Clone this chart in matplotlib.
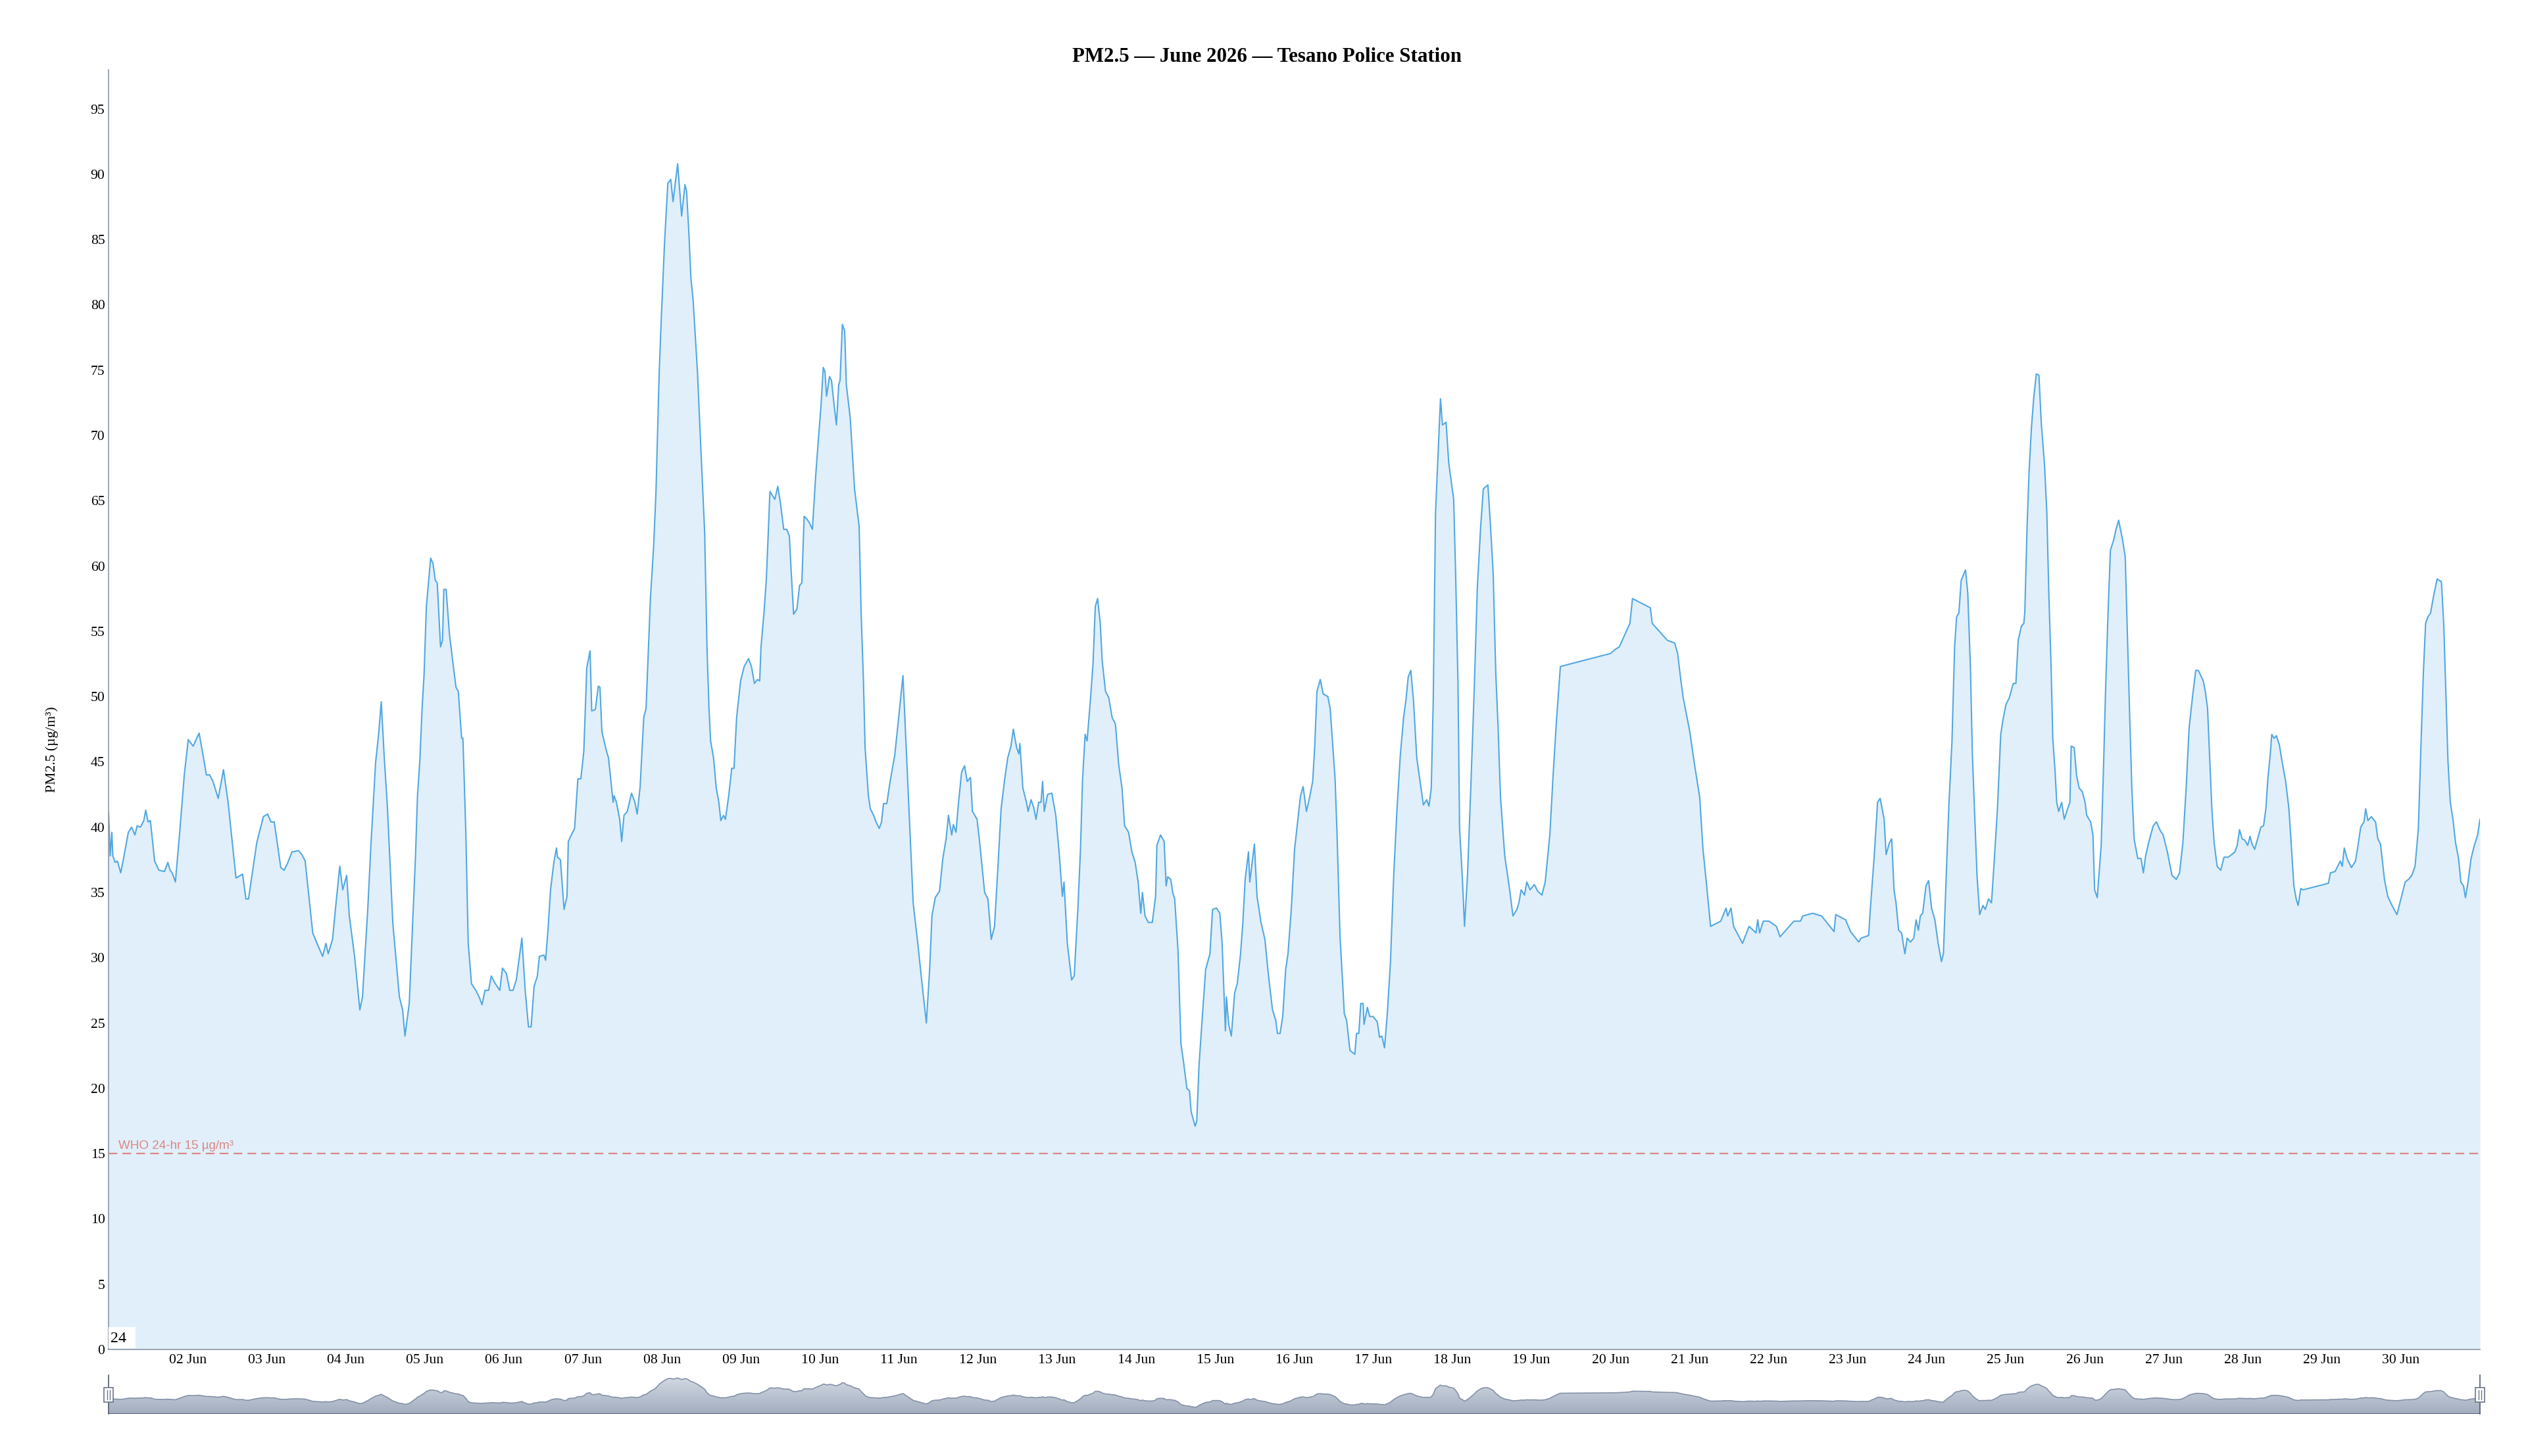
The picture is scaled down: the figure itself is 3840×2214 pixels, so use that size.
import matplotlib.pyplot as plt
import matplotlib.dates as mdates
import numpy as np
import pandas as pd
from matplotlib.colors import LinearSegmentedColormap
from matplotlib.patches import Rectangle

OUT_PNG = "out.png"
START = pd.Timestamp("2026-06-01 00:00")
END = pd.Timestamp("2026-07-01 00:00")
TITLE = "PM2.5 — June 2026 — Tesano Police Station"
Y_LABEL = "PM2.5 (µg/m³)"
WHO_LIMIT = 15
WHO_LABEL = "WHO 24-hr 15 µg/m³"
Y_TICKS = list(range(0, 100, 5))
Y_MAX = 98
CORNER_TEXT = "24"

# (hours since 1 Jun 00:00, PM2.5 in µg/m³)
DAYS_01_04 = [
    (0.0, 41.2), (0.5, 37.8), (1.0, 39.6), (1.3, 37.8), (2.0, 37.3), (2.7, 37.4), (3.7, 36.5),
    (4.7, 37.8), (6.0, 39.6), (7.0, 40.0), (8.0, 39.4), (8.7, 40.1), (9.7, 40.0), (10.7, 40.5),
    (11.3, 41.3), (12.0, 40.4), (12.7, 40.5), (14.0, 37.4), (15.3, 36.7), (17.0, 36.6), (18.0, 37.3),
    (18.7, 36.7), (19.3, 36.5), (20.3, 35.8), (21.7, 39.9), (23.0, 44.0), (24.2, 46.7), (25.7, 46.2),
    (27.5, 47.2), (28.7, 45.5), (29.7, 44.0), (30.7, 44.0), (31.7, 43.5), (33.3, 42.2), (34.9, 44.4),
    (36.3, 41.9), (38.7, 36.1), (40.7, 36.4), (41.7, 34.5), (42.5, 34.5), (45.0, 38.8), (47.0, 40.8),
    (48.3, 41.0), (49.3, 40.4), (50.3, 40.4), (52.3, 36.9), (53.3, 36.7), (54.3, 37.2), (55.7, 38.1),
    (57.7, 38.2), (58.7, 37.9), (59.7, 37.4), (62.0, 31.9), (63.3, 31.1), (65.0, 30.1), (66.0, 31.1),
    (66.7, 30.3), (68.0, 31.4), (69.0, 34.0), (70.2, 37.0), (71.1, 35.2), (72.3, 36.3), (73.1, 33.2),
    (74.7, 30.1), (76.3, 26.0), (77.1, 27.0), (78.7, 33.7), (79.7, 38.8), (81.1, 45.0), (82.0, 47.1),
    (82.8, 49.6), (83.7, 45.4), (84.7, 41.4), (86.3, 32.7), (88.3, 27.0), (89.3, 26.0), (90.0, 24.0),
    (91.3, 26.5),
]
DAYS_04_08 = [
    (93.2, 37.8), (93.8, 42.4), (94.5, 45.0), (95.2, 49.1), (95.8, 51.7), (96.5, 56.9), (97.2, 58.9),
    (97.8, 60.6), (98.5, 60.2), (99.2, 58.9), (99.8, 58.7), (100.8, 53.8), (101.4, 54.3), (101.8, 58.2),
    (102.5, 58.2), (103.5, 54.8), (104.5, 52.7), (105.5, 50.7), (106.2, 50.4), (107.2, 46.8),
    (107.6, 46.8), (108.5, 39.4), (109.2, 31.1), (110.2, 28.0), (111.5, 27.5), (112.5, 27.0),
    (113.4, 26.4), (114.3, 27.5), (115.4, 27.5), (116.2, 28.6), (117.2, 28.1), (118.8, 27.5),
    (119.6, 29.2), (120.8, 28.8), (121.8, 27.5), (122.8, 27.5), (123.8, 28.3), (125.5, 31.5),
    (126.5, 27.5), (127.5, 24.7), (128.3, 24.7), (129.2, 27.8), (130.2, 28.6), (130.8, 30.1),
    (132.2, 30.2), (132.7, 29.8), (133.5, 32.4), (134.2, 35.2), (135.2, 37.3), (136.0, 38.4),
    (136.3, 37.7), (137.2, 37.5), (138.3, 33.7), (139.2, 34.7), (139.6, 38.9), (140.5, 39.4),
    (141.5, 39.9), (142.5, 43.7), (143.4, 43.7), (144.3, 45.8), (145.2, 52.2), (146.2, 53.5),
    (146.7, 48.9), (147.8, 49.0), (148.7, 50.8), (149.2, 50.7), (149.8, 47.3), (151.2, 45.8),
    (151.8, 45.3), (153.2, 41.9), (153.5, 42.4), (154.2, 41.9), (155.2, 40.6), (155.8, 38.9),
    (156.5, 40.9), (157.5, 41.2), (158.8, 42.6), (159.8, 41.9), (160.5, 41.0), (161.4, 43.1),
    (162.5, 48.4), (163.2, 49.1), (164.5, 57.4), (165.5, 61.5), (166.2, 65.6), (167.2, 74.9),
    (167.8, 78.8), (168.8, 84.7), (169.8, 89.3), (170.7, 89.6), (171.4, 87.9), (172.2, 89.6),
    (172.8, 90.8), (173.4, 88.8), (174.0, 86.8), (175.0, 89.2), (175.5, 88.7), (176.2, 85.5),
    (176.8, 82.1), (177.5, 80.3), (178.8, 74.9), (179.8, 69.2),
]
DAYS_08_12 = [
    (181.0, 62.5), (181.7, 53.8), (182.3, 49.1), (182.8, 46.6), (183.7, 45.3), (184.5, 43.0),
    (185.3, 41.9), (185.9, 40.5), (186.7, 40.9), (187.3, 40.6), (188.3, 42.4), (189.2, 44.5),
    (189.9, 44.5), (190.7, 48.4), (191.9, 51.2), (193.0, 52.3), (194.3, 52.9), (195.2, 52.3),
    (196.1, 51.0), (197.0, 51.3), (197.7, 51.2), (198.1, 53.8), (199.0, 56.4), (199.7, 58.9),
    (200.3, 62.5), (200.8, 65.7), (202.3, 65.1), (203.2, 66.1), (204.0, 64.8), (205.0, 62.8),
    (205.9, 62.8), (206.7, 62.3), (207.3, 59.4), (208.0, 56.3), (209.0, 56.7), (209.8, 58.5),
    (210.5, 58.7), (211.2, 63.8), (212.0, 63.6), (212.8, 63.3), (213.7, 62.8), (214.7, 66.9),
    (215.7, 70.3), (216.3, 72.2), (217.0, 75.2), (217.5, 74.9), (218.0, 73.0), (218.9, 74.5),
    (219.5, 74.2), (220.3, 72.3), (221.0, 70.8), (221.7, 73.9), (222.1, 74.2), (222.8, 78.5),
    (223.5, 78.0), (224.0, 73.9), (225.2, 71.3), (226.5, 65.9), (227.9, 63.0), (228.5, 56.4),
    (229.2, 51.2), (229.7, 46.1), (230.7, 42.4), (231.3, 41.4), (232.3, 40.9), (233.0, 40.4),
    (234.0, 39.9), (234.7, 40.4), (235.3, 41.8), (236.3, 41.8), (237.3, 43.5), (238.7, 45.5),
    (239.7, 47.9), (241.2, 51.6), (242.0, 47.1), (243.0, 41.4), (244.3, 34.2), (245.7, 31.1),
    (247.0, 28.0), (248.3, 25.0), (249.3, 29.1), (250.0, 33.2), (251.0, 34.6), (252.3, 35.1),
    (253.3, 37.6), (254.3, 39.1), (255.0, 40.9), (256.0, 39.4), (256.5, 40.2), (257.3, 39.6),
    (258.0, 41.7), (259.0, 44.2), (259.9, 44.7), (260.7, 43.5), (261.7, 43.8), (262.3, 41.2),
    (263.7, 40.6), (264.5, 38.8), (266.0, 35.0), (267.0, 34.5), (268.0, 31.4), (269.0, 32.4),
    (270.0, 36.8), (271.0, 41.4), (272.0, 43.5), (273.0, 45.3), (274.0, 46.2),
]
DAYS_12_16 = [
    (274.7, 47.5), (275.7, 46.1), (276.4, 45.6), (276.7, 46.4), (277.6, 43.0), (278.7, 41.9),
    (279.2, 41.2), (280.1, 42.1), (280.9, 41.5), (281.6, 40.6), (282.4, 41.9), (283.1, 41.9),
    (283.6, 43.5), (284.1, 41.2), (285.1, 42.5), (286.4, 42.6), (287.6, 40.9), (288.7, 37.8),
    (289.6, 34.7), (290.1, 35.8), (291.1, 31.1), (292.4, 28.3), (293.2, 28.6), (294.3, 33.7),
    (295.1, 38.3), (295.7, 43.5), (296.5, 47.1), (297.1, 46.6), (298.1, 49.7), (298.9, 52.5),
    (299.6, 56.9), (300.3, 57.5), (301.1, 55.6), (301.7, 52.7), (302.7, 50.4), (303.7, 49.9),
    (304.7, 48.4), (305.7, 47.9), (306.7, 44.8), (307.7, 43.0), (308.5, 40.1), (309.7, 39.6),
    (310.7, 38.1), (311.7, 37.3), (312.6, 35.8), (313.4, 33.4), (313.9, 35.0), (314.7, 33.2),
    (315.7, 32.7), (316.9, 32.7), (317.9, 34.7), (318.3, 38.6), (319.4, 39.4), (320.5, 38.9),
    (321.1, 35.5), (321.6, 36.2), (322.5, 36.0), (323.1, 35.0), (323.7, 34.5), (324.7, 30.6),
    (325.6, 23.4), (326.4, 22.0), (327.4, 20.0), (328.2, 19.8), (328.7, 18.2), (329.9, 17.1),
    (330.4, 17.5), (331.1, 21.8), (332.1, 25.5), (333.1, 29.1), (334.4, 30.3), (335.2, 33.7),
    (336.4, 33.8), (337.4, 33.4), (338.1, 31.1), (339.1, 24.4), (339.4, 27.0), (340.1, 24.9),
    (340.9, 24.0), (341.9, 27.3), (342.7, 28.0), (343.7, 30.3), (344.4, 32.7), (345.1, 36.0),
    (346.1, 38.1), (346.5, 35.8), (347.9, 38.7), (348.7, 34.7), (349.9, 32.7), (351.1, 31.4),
    (352.1, 28.8), (353.4, 26.0), (354.4, 25.2), (354.9, 24.2), (355.7, 24.2), (356.5, 25.5),
    (357.4, 29.1), (358.1, 30.3), (359.1, 33.7), (360.1, 38.3), (361.1, 40.6), (361.9, 42.4),
    (362.7, 43.1), (363.7, 41.2),
]
DAYS_16_19 = [
    (364.6, 42.2), (365.6, 43.5), (366.2, 46.1), (366.9, 50.4), (367.9, 51.3), (368.8, 50.2),
    (370.2, 50.0), (370.9, 49.1), (371.6, 46.6), (372.4, 43.7), (373.0, 39.4), (373.9, 31.6),
    (374.6, 28.5), (375.2, 25.7), (375.9, 25.2), (376.9, 22.9), (378.4, 22.6), (378.9, 24.2),
    (379.6, 24.2), (380.2, 26.5), (380.9, 26.5), (381.2, 24.9), (382.2, 26.2), (382.9, 25.5),
    (383.9, 25.5), (385.2, 25.1), (385.9, 23.9), (386.6, 24.0), (387.4, 23.1), (388.2, 25.5),
    (389.2, 29.6), (390.2, 36.3), (391.2, 41.4), (392.2, 45.5), (393.2, 48.4), (393.9, 49.7),
    (394.6, 51.5), (395.4, 52.0), (396.2, 49.7), (397.2, 45.3), (398.2, 43.5), (399.2, 41.7),
    (400.2, 42.1), (400.9, 41.6), (401.6, 43.0), (402.2, 49.7), (402.9, 64.1), (403.6, 68.2),
    (404.4, 72.8), (405.0, 70.8), (406.1, 71.0), (406.9, 67.9), (408.4, 65.1), (409.0, 59.4),
    (409.7, 51.2), (410.2, 39.9), (411.0, 36.3), (411.7, 32.4), (412.6, 36.3), (413.6, 43.0),
    (414.6, 50.2), (415.6, 58.4), (416.6, 63.0), (417.4, 65.9), (418.8, 66.2), (419.6, 63.0),
    (420.4, 59.4), (421.2, 51.7), (421.9, 47.6), (422.6, 42.4), (423.9, 37.8), (425.4, 35.2),
    (426.4, 33.2), (427.6, 33.7), (428.2, 34.2), (428.9, 35.2), (429.9, 34.8), (430.6, 35.8),
    (431.6, 35.2), (432.9, 35.6), (433.9, 35.1), (435.2, 34.8), (436.2, 35.8), (437.6, 39.4),
    (438.6, 44.0), (439.6, 48.1), (440.8, 52.3),
]
DAYS_20_23 = [
    (456.1, 53.3), (457.4, 53.6), (458.7, 53.8), (461.9, 55.6), (462.7, 57.5), (468.1, 56.8),
    (468.7, 55.6), (473.3, 54.3), (475.5, 54.1), (476.4, 53.3), (477.4, 51.2), (478.1, 49.9),
    (480.1, 47.3), (481.4, 45.0), (483.1, 42.3), (484.1, 38.3), (485.1, 35.8), (486.4, 32.4),
    (489.5, 32.8), (491.1, 33.8), (491.6, 33.2), (492.6, 33.8), (493.4, 32.4), (496.1, 31.1),
    (498.1, 32.4), (500.2, 31.9), (500.7, 32.9), (501.3, 31.9), (502.4, 32.8), (504.1, 32.8),
    (506.4, 32.4), (507.5, 31.6), (511.7, 32.8), (513.7, 32.8), (514.4, 33.2), (517.4, 33.4),
    (520.1, 33.2), (523.9, 32.0), (524.4, 33.3), (527.4, 32.9), (528.9, 32.0), (531.4, 31.2),
    (532.1, 31.5), (534.4, 31.7), (534.9, 33.7), (536.1, 37.8), (537.1, 41.9), (537.9, 42.2),
    (539.1, 40.6), (539.7, 37.9), (540.7, 38.8), (541.4, 39.1), (542.1, 35.2), (542.7, 34.2),
    (543.5, 32.1), (544.4, 31.9), (545.4, 30.3),
]
DAYS_23_27 = [
    (546.1, 31.5), (547.1, 31.2), (548.1, 31.5), (548.8, 32.9), (549.5, 32.1), (550.1, 33.2),
    (550.8, 33.4), (551.8, 35.5), (552.6, 35.9), (553.5, 33.8), (554.5, 32.9), (555.5, 31.1),
    (556.5, 29.7), (557.1, 30.3), (558.1, 37.3), (558.8, 41.9), (559.7, 46.6), (560.5, 53.8),
    (561.1, 56.1), (561.8, 56.4), (562.5, 58.9), (563.8, 59.7), (564.5, 57.9), (565.3, 52.2),
    (565.9, 45.5), (566.6, 40.9), (567.3, 36.3), (568.1, 33.3), (569.1, 34.0), (569.8, 33.7),
    (570.8, 34.5), (571.7, 34.2), (572.5, 37.3), (573.5, 41.4), (574.5, 47.1), (575.1, 48.1),
    (576.1, 49.4), (577.1, 49.9), (578.3, 51.0), (579.1, 51.0), (579.8, 54.3), (580.8, 55.4),
    (581.5, 55.6), (581.8, 56.4), (582.5, 63.0), (583.1, 67.2), (583.8, 70.5), (584.5, 72.8),
    (585.3, 74.7), (586.1, 74.6), (586.8, 71.0), (587.8, 67.7), (588.5, 64.1), (589.1, 57.9),
    (589.8, 52.2), (590.3, 46.8), (591.0, 44.3), (591.5, 41.9), (592.1, 41.2), (593.0, 41.9),
    (593.8, 40.6), (594.8, 41.4), (595.5, 41.9), (595.9, 46.2), (596.8, 46.1), (597.5, 44.0),
    (598.3, 43.0), (599.3, 42.7), (600.1, 41.9), (600.6, 40.9), (601.8, 40.4), (602.5, 39.4),
    (603.0, 35.2), (603.8, 34.6), (605.0, 38.6), (605.7, 44.5), (606.3, 50.2), (607.0, 55.8),
    (607.8, 61.2), (608.8, 62.0), (609.5, 62.8), (610.3, 63.5), (611.5, 62.0), (612.3, 60.7),
    (613.0, 54.3), (613.7, 48.1), (614.3, 43.0), (615.0, 39.1), (616.1, 37.6), (617.1, 37.6),
    (617.8, 36.5), (618.5, 37.8), (619.5, 38.9), (620.8, 40.1), (621.8, 40.4), (622.8, 39.8),
    (623.8, 39.4), (625.1, 38.1), (626.5, 36.3), (627.8, 36.0), (628.8, 36.5), (629.8, 38.8),
    (630.8, 43.0), (631.7, 47.6), (632.6, 49.7), (633.7, 52.0), (634.5, 52.0),
]
DAYS_27_30 = [
    (636.0, 51.2), (636.6, 50.4), (637.3, 49.1), (638.0, 45.0), (638.6, 41.4), (639.3, 38.8),
    (640.2, 37.0), (641.3, 36.7), (642.3, 37.7), (643.6, 37.7), (644.6, 37.9), (645.6, 38.1),
    (646.3, 38.6), (647.0, 39.8), (647.8, 39.1), (648.6, 39.0), (649.5, 38.6), (650.2, 39.3),
    (650.8, 38.7), (651.6, 38.3), (652.6, 39.2), (653.5, 40.0), (654.3, 40.1), (655.0, 41.4),
    (655.6, 43.7), (656.3, 45.5), (656.8, 47.1), (657.5, 46.8), (658.2, 47.0), (659.1, 46.3),
    (660.0, 44.9), (661.0, 43.5), (662.0, 41.4), (662.8, 38.3), (663.5, 35.5), (664.2, 34.5),
    (664.8, 34.0), (665.6, 35.3), (666.3, 35.2), (674.0, 35.7), (674.6, 36.5), (676.0, 36.6),
    (677.6, 37.4), (678.2, 37.0), (678.8, 38.4), (679.8, 37.5), (681.0, 36.9), (682.2, 37.4),
    (682.8, 38.3), (683.8, 40.0), (684.8, 40.4), (685.3, 41.4), (686.0, 40.5), (687.0, 40.8),
    (688.3, 40.4), (689.0, 39.1), (689.8, 38.7), (691.0, 36.0), (692.0, 34.7), (693.3, 34.0),
    (694.8, 33.3), (696.0, 34.5), (697.3, 35.8), (698.3, 36.0), (699.3, 36.3), (700.3, 37.0),
    (701.3, 39.9), (702.2, 47.1), (702.8, 51.7), (703.5, 55.6), (704.2, 56.1), (705.0, 56.4),
    (706.0, 57.8), (707.0, 59.0), (707.6, 58.9), (708.3, 58.8), (709.0, 55.6), (709.6, 50.7),
    (710.3, 45.0), (711.0, 41.9), (711.8, 40.6), (712.6, 38.8), (713.5, 37.6), (714.2, 35.8),
    (715.0, 35.5), (715.6, 34.6), (716.4, 35.8), (717.3, 37.6), (718.3, 38.6), (719.3, 39.4),
    (720.0, 40.6),
]

LINE_COLOR = "#52a8e1"
AREA_COLOR = "#e1effa"
WHO_COLOR = "#dc8784"
AXIS_COLOR = "#8c97a8"
SERIF = "Liberation Serif"

df = pd.DataFrame(
    DAYS_01_04 + DAYS_04_08 + DAYS_08_12 + DAYS_12_16 + DAYS_16_19 + DAYS_20_23 + DAYS_23_27 + DAYS_27_30,
    columns=["hour", "pm25"],
)
df["time"] = START + pd.to_timedelta(df["hour"], unit="h")

fig = plt.figure(figsize=(19.2, 11.07), dpi=200)
ax = fig.add_axes([165 / 3840, 1 - 2052 / 2214, 3605 / 3840, 1946 / 2214])

ax.fill_between(df["time"], df["pm25"], 0, color=AREA_COLOR, linewidth=0)
ax.plot(df["time"], df["pm25"], color=LINE_COLOR, lw=0.75, solid_joinstyle="round")
ax.axhline(WHO_LIMIT, color=WHO_COLOR, lw=0.8, dashes=(6, 3.5))
ax.text(0.0042, WHO_LIMIT + 0.35, WHO_LABEL, transform=ax.get_yaxis_transform(),
        family="Liberation Sans", fontsize=6.8, color=WHO_COLOR, va="baseline", ha="left")

ax.set_xlim(START, END)
ax.set_ylim(0, Y_MAX)
ax.set_yticks(Y_TICKS)
ax.set_xticks(pd.date_range("2026-06-02", "2026-06-30", freq="D"))
ax.xaxis.set_major_formatter(mdates.DateFormatter("%d %b"))
ax.tick_params(axis="both", length=0, labelsize=7.8, colors="black")
ax.tick_params(axis="x", pad=2.5)
ax.tick_params(axis="y", pad=2.0)
for lab in ax.get_xticklabels() + ax.get_yticklabels():
    lab.set_family(SERIF)
for side in ("top", "right"):
    ax.spines[side].set_visible(False)
for side in ("left", "bottom"):
    ax.spines[side].set_color(AXIS_COLOR)
    ax.spines[side].set_linewidth(0.6)

# little white label box in the lower left corner
ax.add_patch(Rectangle((0, 0.001), 0.0114, 0.0166, transform=ax.transAxes,
                       facecolor="white", edgecolor="none", zorder=3))
ax.text(0.00075, 0.0087, CORNER_TEXT, transform=ax.transAxes, family=SERIF,
        fontsize=8.6, va="center", ha="left", zorder=4)

fig.text(1926 / 3840, 1 - 86 / 2214, TITLE, family=SERIF, fontweight="bold",
         fontsize=11.1, ha="center", va="center")
fig.text(79 / 3840, 1 - 1140 / 2214, Y_LABEL, family=SERIF, fontsize=7.8,
         rotation=90, ha="center", va="center")

# slider / navigator strip under the chart
nav = fig.add_axes([165 / 3840, 1 - 2150 / 2214, 3605 / 3840, 59 / 2214])
shade = nav.fill_between(df["time"], df["pm25"], 0, color="none", linewidth=0)
grad = np.linspace(0, 1, 256).reshape(-1, 1)
cmap = LinearSegmentedColormap.from_list("nav", ["#d6dce5", "#a2adbf"])
x0, x1 = mdates.date2num(START), mdates.date2num(END)
img = nav.imshow(grad, cmap=cmap, extent=(x0, x1, 0, Y_MAX), origin="upper", aspect="auto")
img.set_clip_path(shade.get_paths()[0], transform=nav.transData)
nav.plot(df["time"], df["pm25"], color="#8592a7", lw=0.6)
nav.axhline(0, color="#56627a", lw=1.1)
nav.set_xlim(START, END)
nav.set_ylim(0, Y_MAX)
nav.axis("off")

for t in (START, END):
    xc = mdates.date2num(t)
    nav.plot([xc, xc], [0, Y_MAX], color="#4f5b6e", lw=0.6, clip_on=False)
    half = 1.3 / 24
    nav.add_patch(Rectangle((xc - half, 30), 2 * half, 36.5, facecolor="white",
                            edgecolor="#6b7689", lw=0.6, clip_on=False, zorder=5))
    for dx in (-0.4 / 24, 0.4 / 24):
        nav.plot([xc + dx, xc + dx], [37, 59.5], color="#6b7689", lw=0.5, clip_on=False, zorder=6)

fig.savefig(OUT_PNG, dpi=200)
plt.close(fig)
